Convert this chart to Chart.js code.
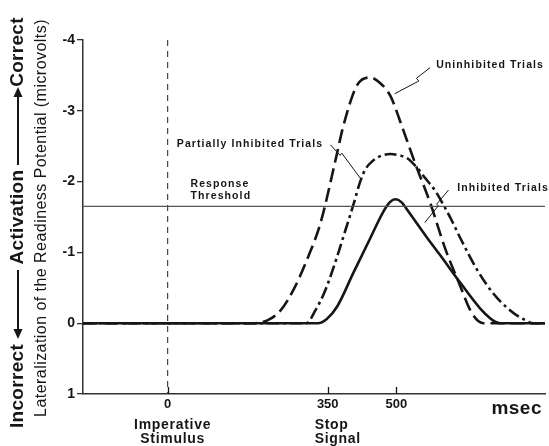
<!DOCTYPE html>
<html>
<head>
<meta charset="utf-8">
<script src="https://cdn.jsdelivr.net/npm/chart.js@4.4.1/dist/chart.umd.min.js"></script>
<style>
  html, body { margin: 0; padding: 0; background: #fff; }
  canvas { display: block; }
</style>
</head>
<body>
<canvas id="rp-chart" width="549" height="446"></canvas>
<script>
// msec after the imperative stimulus / lateralized readiness potential (microvolts)
const uninhibitedMs = [-185, 185, 218, 247, 275, 308, 334, 369, 382, 404, 417, 443, 465, 487, 515, 541, 574, 607, 640, 662, 679, 690, 825];
const uninhibitedUv = [0, 0, -0.04, -0.18, -0.47, -0.95, -1.41, -2.36, -2.73, -3.21, -3.39, -3.47, -3.39, -3.21, -2.73, -2.26, -1.7, -1.05, -0.52, -0.18, -0.03, 0, 0];

const partialMs = [-185, 303, 323, 345, 371, 389, 406, 421, 432, 448, 465, 487, 507, 524, 546, 563, 585, 603, 622, 640, 677, 712, 749, 777, 800, 825];
const partialUv = [0, 0, -0.18, -0.47, -0.95, -1.32, -1.67, -2.0, -2.17, -2.29, -2.36, -2.39, -2.37, -2.33, -2.19, -2.05, -1.87, -1.67, -1.44, -1.2, -0.75, -0.42, -0.18, -0.06, 0, 0];

const inhibitedMs = [-185, 328, 348, 371, 406, 443, 472, 486, 498, 511, 526, 568, 596, 640, 683, 705, 716, 727, 825];
const inhibitedUv = [0, 0, -0.06, -0.24, -0.71, -1.2, -1.58, -1.71, -1.75, -1.71, -1.58, -1.2, -0.96, -0.57, -0.21, -0.07, -0.02, 0, 0];

const thresholdUv = -1.65;
const stimulusMs = 0;
const stopSignalMs = 350;
const xRange = [-185, 825];
const yRange = [-4, 1];
const xTickValues = [0, 350, 500];
const yTickValues = [-4, -3, -2, -1, 0, 1];

const FONT = '"Liberation Sans", Arial, Helvetica, sans-serif';
const INK = '#161616';

function toPoints(xs, ys) {
  return xs.map((x, i) => ({ x: x, y: ys[i] }));
}

// text notes and their pointer strokes, in data units (msec, microvolts)
const notes = [
  { lines: ['Uninhibited Trials'], x: 587, y: -3.65 },
  { lines: ['Partially Inhibited Trials'], x: 20, y: -2.53 },
  { lines: ['Inhibited Trials'], x: 633, y: -1.91 },
  { lines: ['Response', 'Threshold'], x: 50, y: -1.96 }
];
const pointers = [
  [[574, -3.61], [544, -3.46], [549, -3.42], [496, -3.24]],
  [[356, -2.52], [377, -2.37], [381, -2.4], [421, -2.05]],
  [[614, -1.88], [588, -1.68], [592, -1.66], [562, -1.42]]
];

const annotate = {
  id: 'annotate',
  afterDraw(chart) {
    const ctx = chart.ctx;
    const xs = chart.scales.x;
    const ys = chart.scales.y;
    const area = chart.chartArea;
    ctx.save();
    ctx.fillStyle = INK;
    ctx.strokeStyle = INK;

    // x tick marks point up into the plot
    ctx.lineWidth = 1.3;
    xTickValues.forEach(v => {
      const px = Math.round(xs.getPixelForValue(v)) + 0.5;
      ctx.beginPath();
      ctx.moveTo(px, area.bottom);
      ctx.lineTo(px, area.bottom - 7);
      ctx.stroke();
    });

    // notes
    ctx.font = 'bold 10.5px ' + FONT;
    ctx.letterSpacing = '1.1px';
    ctx.textBaseline = 'middle';
    ctx.textAlign = 'left';
    notes.forEach(n => {
      const px = xs.getPixelForValue(n.x);
      const py = ys.getPixelForValue(n.y);
      n.lines.forEach((t, i) => ctx.fillText(t, px, py + i * 12));
    });
    ctx.lineWidth = 1;
    pointers.forEach(p => {
      ctx.beginPath();
      p.forEach((pt, i) => {
        const px = xs.getPixelForValue(pt[0]);
        const py = ys.getPixelForValue(pt[1]);
        if (i === 0) ctx.moveTo(px, py); else ctx.lineTo(px, py);
      });
      ctx.stroke();
    });

    // event names under the time axis
    ctx.font = 'bold 14px ' + FONT;
    ctx.letterSpacing = '0.7px';
    ctx.textAlign = 'center';
    const x0 = xs.getPixelForValue(stimulusMs) + 5;
    ctx.fillText('Imperative', x0, area.bottom + 31);
    ctx.fillText('Stimulus', x0, area.bottom + 45);
    ctx.textAlign = 'left';
    const xStop = xs.getPixelForValue(stopSignalMs) - 13;
    ctx.fillText('Stop', xStop, area.bottom + 31);
    ctx.fillText('Signal', xStop, area.bottom + 45);

    ctx.font = 'bold 19px ' + FONT;
    ctx.letterSpacing = '0.5px';
    ctx.textAlign = 'right';
    ctx.fillText('msec', area.right - 3, area.bottom + 15);

    // rotated axis titles
    ctx.save();
    ctx.translate(18, 0);
    ctx.rotate(-Math.PI / 2);
    ctx.font = 'bold 19px ' + FONT;
    ctx.letterSpacing = '0.3px';
    ctx.textAlign = 'center';
    ctx.fillText('Incorrect', -386, 0);
    ctx.fillText('Activation', -217, 0);
    ctx.fillText('Correct', -52, 0);
    ctx.lineWidth = 2;
    // arrow toward "Incorrect"
    ctx.beginPath(); ctx.moveTo(-332, 0); ctx.lineTo(-270, 0); ctx.stroke();
    ctx.beginPath(); ctx.moveTo(-339, 0); ctx.lineTo(-329, -4.5); ctx.lineTo(-329, 4.5); ctx.closePath(); ctx.fill();
    // arrow toward "Correct"
    ctx.beginPath(); ctx.moveTo(-165, 0); ctx.lineTo(-94, 0); ctx.stroke();
    ctx.beginPath(); ctx.moveTo(-87, 0); ctx.lineTo(-97, -4.5); ctx.lineTo(-97, 4.5); ctx.closePath(); ctx.fill();
    ctx.restore();

    ctx.save();
    ctx.translate(42, 0);
    ctx.rotate(-Math.PI / 2);
    ctx.font = '16px ' + FONT;
    ctx.letterSpacing = '0.45px';
    ctx.textAlign = 'center';
    ctx.fillText('Lateralization of the Readiness Potential (microvolts)', -218, 0);
    ctx.restore();

    ctx.restore();
  }
};

const ctx = document.querySelector('#rp-chart').getContext('2d');

const rpChart = new Chart(ctx, {
  type: 'line',
  data: {
    datasets: [
      {
        label: 'Response Threshold',
        data: toPoints(xRange, [thresholdUv, thresholdUv]),
        borderColor: '#555',
        borderWidth: 1.2
      },
      {
        label: 'Imperative Stimulus',
        data: toPoints([stimulusMs, stimulusMs], yRange),
        borderColor: '#444',
        borderWidth: 1.2,
        borderDash: [6, 5]
      },
      {
        label: 'Uninhibited Trials',
        data: toPoints(uninhibitedMs, uninhibitedUv),
        borderColor: INK,
        borderWidth: 2.6,
        borderDash: [14, 6],
        cubicInterpolationMode: 'monotone'
      },
      {
        label: 'Partially Inhibited Trials',
        data: toPoints(partialMs, partialUv),
        borderColor: INK,
        borderWidth: 2.6,
        borderDash: [12, 4, 3, 4],
        cubicInterpolationMode: 'monotone'
      },
      {
        label: 'Inhibited Trials',
        data: toPoints(inhibitedMs, inhibitedUv),
        borderColor: INK,
        borderWidth: 2.6,
        cubicInterpolationMode: 'monotone'
      }
    ]
  },
  options: {
    responsive: false,
    animation: false,
    events: [],
    layout: { padding: { top: 40, right: 4, left: 0, bottom: 0 } },
    elements: { point: { radius: 0 }, line: { fill: false } },
    plugins: { legend: { display: false }, tooltip: { enabled: false } },
    scales: {
      x: {
        type: 'linear',
        min: xRange[0],
        max: xRange[1],
        afterBuildTicks: s => { s.ticks = xTickValues.map(v => ({ value: v })); },
        afterFit: s => { s.height = 52; },
        grid: { display: false, drawTicks: false },
        border: { display: true, color: '#333', width: 1.5 },
        ticks: {
          padding: 3,
          color: INK,
          font: { family: FONT, size: 13, weight: 'bold' },
          maxRotation: 0
        }
      },
      y: {
        type: 'linear',
        reverse: true,
        min: yRange[0],
        max: yRange[1],
        afterBuildTicks: s => { s.ticks = yTickValues.map(v => ({ value: v })); },
        afterFit: s => { s.width = 83; },
        grid: { drawOnChartArea: false, drawTicks: true, tickLength: 6, color: '#333', lineWidth: 1.3 },
        border: { display: true, color: '#333', width: 1.5 },
        ticks: {
          padding: 2,
          color: INK,
          font: { family: FONT, size: 14, weight: 'bold' }
        }
      }
    }
  },
  plugins: [annotate]
});
</script>
</body>
</html>
